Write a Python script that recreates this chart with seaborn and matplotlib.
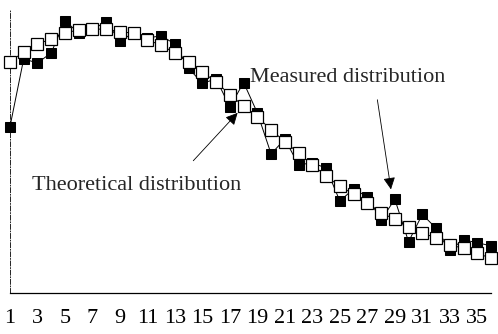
import matplotlib
matplotlib.use("Agg")
import matplotlib.pyplot as plt
import seaborn as sns
import pandas as pd

# position along the x axis (1..36)
positions = list(range(1, 37))
tick_labels = [str(i) for i in range(1, 36, 2)]

# values (arbitrary units, axis 0..80)
theoretical = [65.4, 68.1, 70.4, 71.8, 73.5, 74.4, 74.6, 74.6, 73.9, 73.4,
               71.5, 70.1, 67.8, 65.2, 62.4, 59.7, 56.0, 52.9, 49.8, 46.1,
               42.8, 39.5, 36.2, 33.1, 30.1, 28.0, 25.4, 22.7, 20.8, 18.6,
               17.0, 15.5, 13.6, 12.6, 11.2, 9.8]
measured = [47.0, 66.2, 65.0, 67.9, 77.0, 73.5, 74.6, 76.6, 71.3, 73.5,
            72.1, 72.7, 70.4, 63.5, 59.3, 60.5, 52.6, 59.5, 50.9, 39.3,
            43.5, 36.2, 36.8, 35.3, 26.0, 29.4, 27.2, 20.6, 26.5, 14.5,
            22.2, 18.3, 12.2, 15.0, 14.2, 13.3]

df = pd.DataFrame({"pos": positions, "theoretical": theoretical, "measured": measured})

sns.set_style("white")
plt.rcParams["font.family"] = ["Liberation Serif", "DejaVu Serif"]

fig = plt.figure(figsize=(4.98, 3.34), dpi=100)
ax = fig.add_axes([0.02, 0.123, 0.966, 0.847])

# measured first so the open squares sit on top
sns.lineplot(data=df, x="pos", y="measured", ax=ax, color="black", lw=0.7,
             marker="s", markersize=7.5, markerfacecolor="black",
             markeredgecolor="black", zorder=2, clip_on=False)
sns.lineplot(data=df, x="pos", y="theoretical", ax=ax, color="black", lw=0.7,
             marker="s", markersize=8, markerfacecolor="white",
             markeredgecolor="black", markeredgewidth=0.9, zorder=3, clip_on=False)

ax.set_xlim(1, 36)
ax.set_ylim(0, 80)
ax.set_xticks(range(1, 36, 2))
ax.set_xticklabels(tick_labels, fontsize=16)
ax.set_yticks(range(0, 81, 10))
ax.set_yticklabels([])
ax.tick_params(axis="both", direction="inout", length=5, width=0.6, colors="black", pad=9)
ax.set_xlabel("")
ax.set_ylabel("")

for side in ["top", "right"]:
    ax.spines[side].set_visible(False)
ax.spines["left"].set_linewidth(0.6)
ax.spines["left"].set_linestyle((0, (6, 2, 1, 2)))
ax.spines["bottom"].set_linewidth(0.9)
for side in ["left", "bottom"]:
    ax.spines[side].set_color("black")

arrow = dict(arrowstyle="-|>", color="black", lw=0.6, mutation_scale=18)
ax.text(25.6, 61.0, "Measured distribution", fontsize=16, ha="center", va="center")
ax.annotate("", xy=(28.75, 28.5), xytext=(27.7, 55.4), arrowprops=arrow)
ax.annotate("", xy=(17.7, 51.5), xytext=(14.2, 36.8), arrowprops=arrow)
ax.text(2.6, 30.3, "Theoretical distribution", fontsize=16, ha="left", va="center")

fig.savefig("out.png", dpi=100)
